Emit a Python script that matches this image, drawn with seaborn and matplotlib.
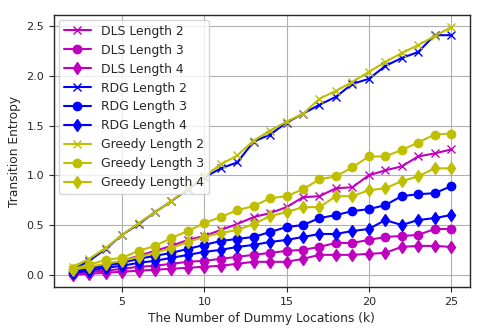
import matplotlib
matplotlib.use("Agg")
import matplotlib.pyplot as plt
import seaborn as sns
import pandas as pd

k = list(range(2, 26))

dls_2 = [0.03, 0.06, 0.10, 0.14, 0.19, 0.24, 0.29, 0.35, 0.39, 0.45, 0.51, 0.58, 0.62, 0.68, 0.78, 0.79, 0.87, 0.88, 1.00, 1.05, 1.09, 1.19, 1.22, 1.26]
dls_3 = [0.01, 0.03, 0.04, 0.06, 0.08, 0.09, 0.11, 0.13, 0.14, 0.16, 0.18, 0.20, 0.22, 0.24, 0.25, 0.28, 0.32, 0.32, 0.35, 0.38, 0.39, 0.40, 0.46, 0.46]
dls_4 = [0.00, 0.01, 0.02, 0.03, 0.04, 0.05, 0.06, 0.07, 0.08, 0.09, 0.11, 0.13, 0.13, 0.13, 0.16, 0.20, 0.20, 0.20, 0.21, 0.22, 0.28, 0.29, 0.29, 0.28]
rdg_2 = [0.05, 0.14, 0.26, 0.40, 0.51, 0.63, 0.74, 0.86, 0.98, 1.07, 1.13, 1.34, 1.41, 1.53, 1.62, 1.71, 1.79, 1.92, 1.97, 2.10, 2.18, 2.24, 2.41, 2.41]
rdg_3 = [0.03, 0.06, 0.09, 0.12, 0.16, 0.19, 0.22, 0.26, 0.30, 0.34, 0.36, 0.38, 0.43, 0.48, 0.50, 0.57, 0.60, 0.64, 0.66, 0.70, 0.79, 0.81, 0.82, 0.89]
rdg_4 = [0.02, 0.04, 0.07, 0.09, 0.12, 0.14, 0.17, 0.20, 0.23, 0.25, 0.28, 0.30, 0.33, 0.35, 0.38, 0.41, 0.41, 0.44, 0.46, 0.55, 0.50, 0.55, 0.57, 0.60]
greedy_2 = [0.08, 0.16, 0.27, 0.40, 0.52, 0.63, 0.74, 0.87, 0.99, 1.11, 1.20, 1.35, 1.45, 1.54, 1.62, 1.77, 1.85, 1.94, 2.04, 2.14, 2.23, 2.31, 2.40, 2.49]
greedy_3 = [0.06, 0.10, 0.15, 0.17, 0.24, 0.29, 0.37, 0.44, 0.52, 0.58, 0.65, 0.69, 0.77, 0.79, 0.86, 0.96, 0.99, 1.08, 1.19, 1.19, 1.255, 1.33, 1.41, 1.42]
greedy_4 = [0.05, 0.08, 0.11, 0.14, 0.18, 0.22, 0.27, 0.33, 0.38, 0.42, 0.45, 0.51, 0.59, 0.63, 0.68, 0.68, 0.79, 0.79, 0.85, 0.87, 0.94, 0.99, 1.07, 1.07]

series = [
    ("DLS Length 2", dls_2, "m", "x"),
    ("DLS Length 3", dls_3, "m", "o"),
    ("DLS Length 4", dls_4, "m", "d"),
    ("RDG Length 2", rdg_2, "b", "x"),
    ("RDG Length 3", rdg_3, "b", "o"),
    ("RDG Length 4", rdg_4, "b", "d"),
    ("Greedy Length 2", greedy_2, "y", "x"),
    ("Greedy Length 3", greedy_3, "y", "o"),
    ("Greedy Length 4", greedy_4, "y", "d"),
]

sns.set_style("ticks")
plt.rcParams["font.family"] = ["DejaVu Sans"]

fig = plt.figure(figsize=(4.81, 3.30), dpi=100)
ax = fig.add_axes([0.112, 0.13, 0.865, 0.825])

for name, vals, color, marker in series:
    df = pd.DataFrame({"k": k, "v": vals})
    sns.lineplot(data=df, x="k", y="v", ax=ax, color=color, marker=marker,
                 markersize=6 if marker != "x" else 6, markeredgecolor=color,
                 markeredgewidth=1.0, linewidth=1.5, label=name)

ax.grid(True, color="#b0b0b0", linewidth=0.8)
ax.set_axisbelow(True)
ax.set_xticks([5, 10, 15, 20, 25])
ax.set_yticks([0.0, 0.5, 1.0, 1.5, 2.0, 2.5])
ax.set_xlabel("The Number of Dummy Locations (k)", fontsize=8.8)
ax.set_ylabel("Transition Entropy", fontsize=8.8)
ax.tick_params(labelsize=8, colors="#262626")
for s in ax.spines.values():
    s.set_color("#262626")
    s.set_linewidth(1.0)
ax.margins(x=0.05, y=0.05)
leg = ax.legend(loc="upper left", prop={"size": 8.9}, frameon=True, framealpha=0.8,
                handlelength=2.2, labelspacing=0.48, borderaxespad=0.4)

fig.savefig("out.png", dpi=100)
